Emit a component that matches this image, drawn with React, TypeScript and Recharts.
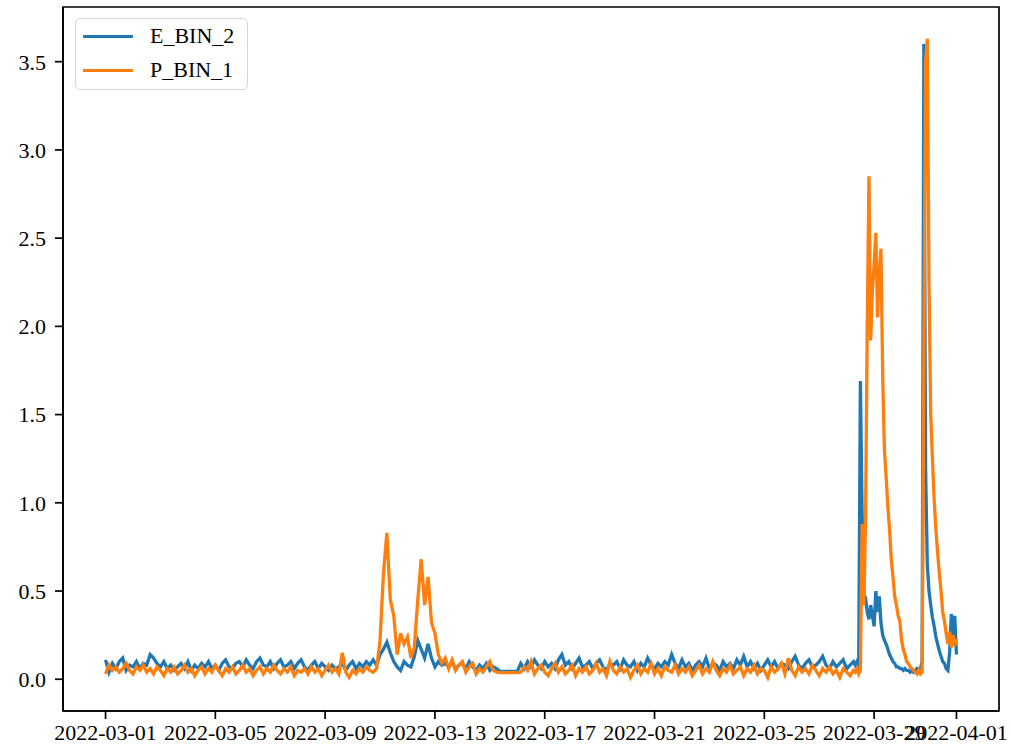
import { LineChart, Line, XAxis, YAxis, ReferenceArea } from "recharts";

const tickHours = [0, 96, 192, 288, 384, 480, 576, 672, 744];
const tickLabels = [
    "2022-03-01",
    "2022-03-05",
    "2022-03-09",
    "2022-03-13",
    "2022-03-17",
    "2022-03-21",
    "2022-03-25",
    "2022-03-29",
    "2022-04-01",
];
const yTicks = [0, 0.5, 1, 1.5, 2, 2.5, 3, 3.5];

const seriesNames = ["E_BIN_2", "P_BIN_1"];
const seriesColors = ["#1f77b4", "#ff7f0e"];

// every 3 h, 2022-03-01 00:00 .. 2022-03-28 06:00
const eBin2Base = [
    0.11, 0.04, 0.09, 0.06, 0.1, 0.12, 0.05, 0.08, 0.07, 0.1,
    0.06, 0.09, 0.08, 0.14, 0.12, 0.09, 0.07, 0.1, 0.06, 0.08,
    0.05, 0.07, 0.09, 0.06, 0.1, 0.05, 0.08, 0.06, 0.09, 0.07,
    0.1, 0.06, 0.08, 0.05, 0.09, 0.11, 0.07, 0.06, 0.09, 0.1,
    0.07, 0.11, 0.08, 0.06, 0.1, 0.12, 0.08, 0.07, 0.1, 0.06,
    0.09, 0.11, 0.07, 0.08, 0.1, 0.06, 0.09, 0.11, 0.07, 0.05,
    0.08, 0.1, 0.06, 0.09, 0.07, 0.05, 0.08, 0.06, 0.07, 0.09,
    0.05, 0.08, 0.1, 0.06, 0.09, 0.07, 0.1, 0.08, 0.11, 0.08,
    0.14, 0.17, 0.21, 0.15, 0.1, 0.07, 0.05, 0.1, 0.08, 0.07,
    0.13, 0.22, 0.17, 0.12, 0.2, 0.12, 0.07, 0.1, 0.08, 0.09,
    0.07, 0.1, 0.06, 0.08, 0.09, 0.06, 0.1, 0.07, 0.05, 0.08,
    0.06, 0.09, 0.05, 0.07, 0.06, 0.045, 0.045, 0.045, 0.045, 0.045,
    0.045, 0.09, 0.06, 0.1, 0.07, 0.11, 0.08, 0.06, 0.1, 0.07,
    0.09, 0.06, 0.11, 0.14, 0.08, 0.1, 0.06, 0.09, 0.12, 0.07,
    0.08, 0.1, 0.06, 0.09, 0.11, 0.07, 0.05, 0.09, 0.08, 0.1,
    0.06, 0.11, 0.08, 0.07, 0.1, 0.05, 0.09, 0.07, 0.12, 0.08,
    0.06, 0.09, 0.07, 0.1, 0.08, 0.14, 0.09, 0.06, 0.11, 0.07,
    0.09, 0.05, 0.08, 0.1, 0.07, 0.12, 0.06, 0.09, 0.08, 0.05,
    0.1, 0.07, 0.09, 0.06, 0.11, 0.08, 0.13, 0.07, 0.1, 0.06,
    0.09, 0.05, 0.08, 0.11, 0.07, 0.1, 0.06, 0.09, 0.08, 0.06,
    0.1, 0.13, 0.08, 0.06, 0.09, 0.11, 0.07, 0.08, 0.1, 0.13,
    0.08, 0.06, 0.1, 0.07, 0.09, 0.11, 0.06, 0.08, 0.1,
];
const pBin1Base = [
    0.03, 0.08, 0.05, 0.07, 0.04, 0.06, 0.09, 0.05, 0.03, 0.07,
    0.05, 0.08, 0.04, 0.06, 0.03, 0.07, 0.05, 0.02, 0.06, 0.04,
    0.07, 0.03, 0.05, 0.08, 0.04, 0.06, 0.02, 0.05, 0.07, 0.03,
    0.06, 0.04, 0.08, 0.05, 0.02, 0.06, 0.04, 0.07, 0.03, 0.05,
    0.08, 0.04, 0.06, 0.02, 0.05, 0.07, 0.03, 0.06, 0.04, 0.08,
    0.05, 0.03, 0.06, 0.04, 0.07, 0.02, 0.05, 0.04, 0.06, 0.03,
    0.07, 0.04, 0.06, 0.02, 0.05, 0.08, 0.04, 0.06, 0.03, 0.15,
    0.04, 0.01, 0.05, 0.03, 0.06, 0.04, 0.07, 0.05, 0.04, 0.06,
    0.22, 0.6, 0.83, 0.45, 0.36, 0.14, 0.26, 0.2, 0.24, 0.12,
    0.18, 0.45, 0.68, 0.42, 0.58, 0.32, 0.26, 0.14, 0.09, 0.12,
    0.06, 0.11, 0.05, 0.08, 0.1, 0.04, 0.07, 0.09, 0.03, 0.06,
    0.04, 0.07, 0.1, 0.05, 0.04, 0.038, 0.038, 0.038, 0.038, 0.038,
    0.038, 0.04, 0.07, 0.05, 0.1, 0.03, 0.06, 0.08, 0.04, 0.02,
    0.06, 0.09, 0.04, 0.07, 0.03, 0.05, 0.08, 0.02, 0.06, 0.04,
    0.07, 0.03, 0.05, 0.09, 0.04, 0.06, 0.02, 0.1, 0.05, 0.03,
    0.07, 0.04, 0.06, 0.01, 0.05, 0.08, 0.03, 0.06, 0.04, 0.09,
    0.03, 0.06, 0.02, 0.07, 0.05, 0.04, 0.08, 0.03, 0.06, 0.04,
    0.07, 0.02, 0.05, 0.08, 0.03, 0.06, 0.04, 0.1, 0.05, 0.02,
    0.06, 0.04, 0.08, 0.03, 0.05, 0.07, 0.02, 0.06, 0.04, 0.08,
    0.03, 0.06, 0.05, 0.01, 0.07, 0.04, 0.06, 0.09, 0.03, 0.12,
    0.05, 0.02, 0.07, 0.04, 0.06, 0.03, 0.08, 0.05, 0.02, 0.06,
    0.04, 0.07, 0.03, 0.05, 0.01, 0.06, 0.04, 0.02, 0.05,
];

// every 1.5 h, 2022-03-28 07:30 .. 2022-04-01 00:00 (the two bursts)
const eBin2Peak = [
    0.08, 0.1, 0.06, 1.69, 0.94, 0.48, 0.46, 0.38, 0.34, 0.42,
    0.36, 0.3, 0.5, 0.38, 0.47, 0.32, 0.25, 0.22, 0.2, 0.17,
    0.14, 0.12, 0.1, 0.09, 0.07, 0.07, 0.06, 0.06, 0.05, 0.06,
    0.05, 0.05, 0.04, 0.05, 0.04, 0.05, 0.06, 0.05, 0.06, 0.1,
    3.6, 1.2, 0.65, 0.5, 0.42, 0.35, 0.3, 0.24, 0.2, 0.16,
    0.13, 0.1, 0.09, 0.06, 0.05, 0.15, 0.37, 0.2, 0.36, 0.14,
];
const pBin1Peak = [
    0.04, 0.06, 0.03, 0.05, 0.88, 0.42, 0.9, 2.0, 2.85, 1.92,
    2.2, 2.35, 2.53, 2.05, 2.3, 2.44, 1.72, 1.3, 1.15, 0.98,
    0.85, 0.68, 0.58, 0.47, 0.42, 0.36, 0.33, 0.22, 0.17, 0.14,
    0.1, 0.09, 0.07, 0.06, 0.05, 0.04, 0.03, 0.05, 0.03, 0.04,
    1.8, 3.5, 3.63, 2.25, 1.5, 1.25, 1.02, 0.85, 0.72, 0.6,
    0.5, 0.38, 0.33, 0.26, 0.2, 0.27, 0.18, 0.25, 0.19, 0.23,
];

const hours = [
    ...eBin2Base.map((_, i) => i * 3),
    ...eBin2Peak.map((_, j) => 655.5 + j * 1.5),
];
const eBin2 = [...eBin2Base, ...eBin2Peak];
const pBin1 = [...pBin1Base, ...pBin1Peak];
const data = hours.map((h, i) => ({ h, E_BIN_2: eBin2[i], P_BIN_1: pBin1[i] }));

const X_DOMAIN: [number, number] = [-37.2, 781.2];
const Y_DOMAIN: [number, number] = [-0.18, 3.81];
const FONT = "'Liberation Serif', 'DejaVu Serif', serif";
const tickStyle = { fontFamily: FONT, fontSize: 22, fill: "#000" };
const axisStroke = { stroke: "#000", strokeWidth: 1.7 };

// legend drawn as a plain box so it doesn't eat into the plot area
function LegendBox() {
    return (
        <div
            style={{
                position: "absolute",
                left: 75,
                top: 18,
                width: 173,
                height: 72,
                boxSizing: "border-box",
                border: "1.5px solid #d6d6d6",
                borderRadius: 5,
                background: "#fff",
                fontFamily: FONT,
                fontSize: 22,
            }}
        >
            {seriesNames.map((name, i) => (
                <div
                    key={name}
                    style={{ position: "absolute", left: 7, top: 2 + i * 34, height: 30, display: "flex", alignItems: "center" }}
                >
                    <span style={{ display: "inline-block", width: 50, height: 3, background: seriesColors[i] }} />
                    <span style={{ marginLeft: 17, color: "#000", lineHeight: "30px" }}>{name}</span>
                </div>
            ))}
        </div>
    );
}

export default function App() {
    return (
        <div style={{ position: "relative", width: 1011, height: 748, background: "#fff" }}>
            <style>{"body{margin:0}"}</style>
            <LineChart width={1011} height={748} data={data} margin={{ top: 7, right: 12, left: 0, bottom: 0 }}>
                <XAxis
                    dataKey="h"
                    type="number"
                    domain={X_DOMAIN}
                    ticks={tickHours}
                    tickFormatter={(v: number) => tickLabels[tickHours.indexOf(v)] ?? ""}
                    interval={0}
                    height={37}
                    tick={tickStyle}
                    tickSize={8}
                    tickMargin={5}
                    axisLine={axisStroke}
                    tickLine={axisStroke}
                    allowDataOverflow
                />
                <YAxis
                    type="number"
                    domain={Y_DOMAIN}
                    ticks={yTicks}
                    tickFormatter={(v: number) => v.toFixed(1)}
                    interval={0}
                    width={63}
                    tick={tickStyle}
                    tickSize={8}
                    tickMargin={9}
                    axisLine={axisStroke}
                    tickLine={axisStroke}
                    allowDataOverflow
                />
                <ReferenceArea
                    x1={X_DOMAIN[0]}
                    x2={X_DOMAIN[1]}
                    y1={Y_DOMAIN[0]}
                    y2={Y_DOMAIN[1]}
                    fill="none"
                    stroke="#000"
                    strokeWidth={1.7}
                    ifOverflow="visible"
                />
                <Line
                    type="linear"
                    dataKey="E_BIN_2"
                    stroke={seriesColors[0]}
                    strokeWidth={3.3}
                    dot={false}
                    isAnimationActive={false}
                />
                <Line
                    type="linear"
                    dataKey="P_BIN_1"
                    stroke={seriesColors[1]}
                    strokeWidth={3.3}
                    dot={false}
                    isAnimationActive={false}
                />
            </LineChart>
            <LegendBox />
        </div>
    );
}
